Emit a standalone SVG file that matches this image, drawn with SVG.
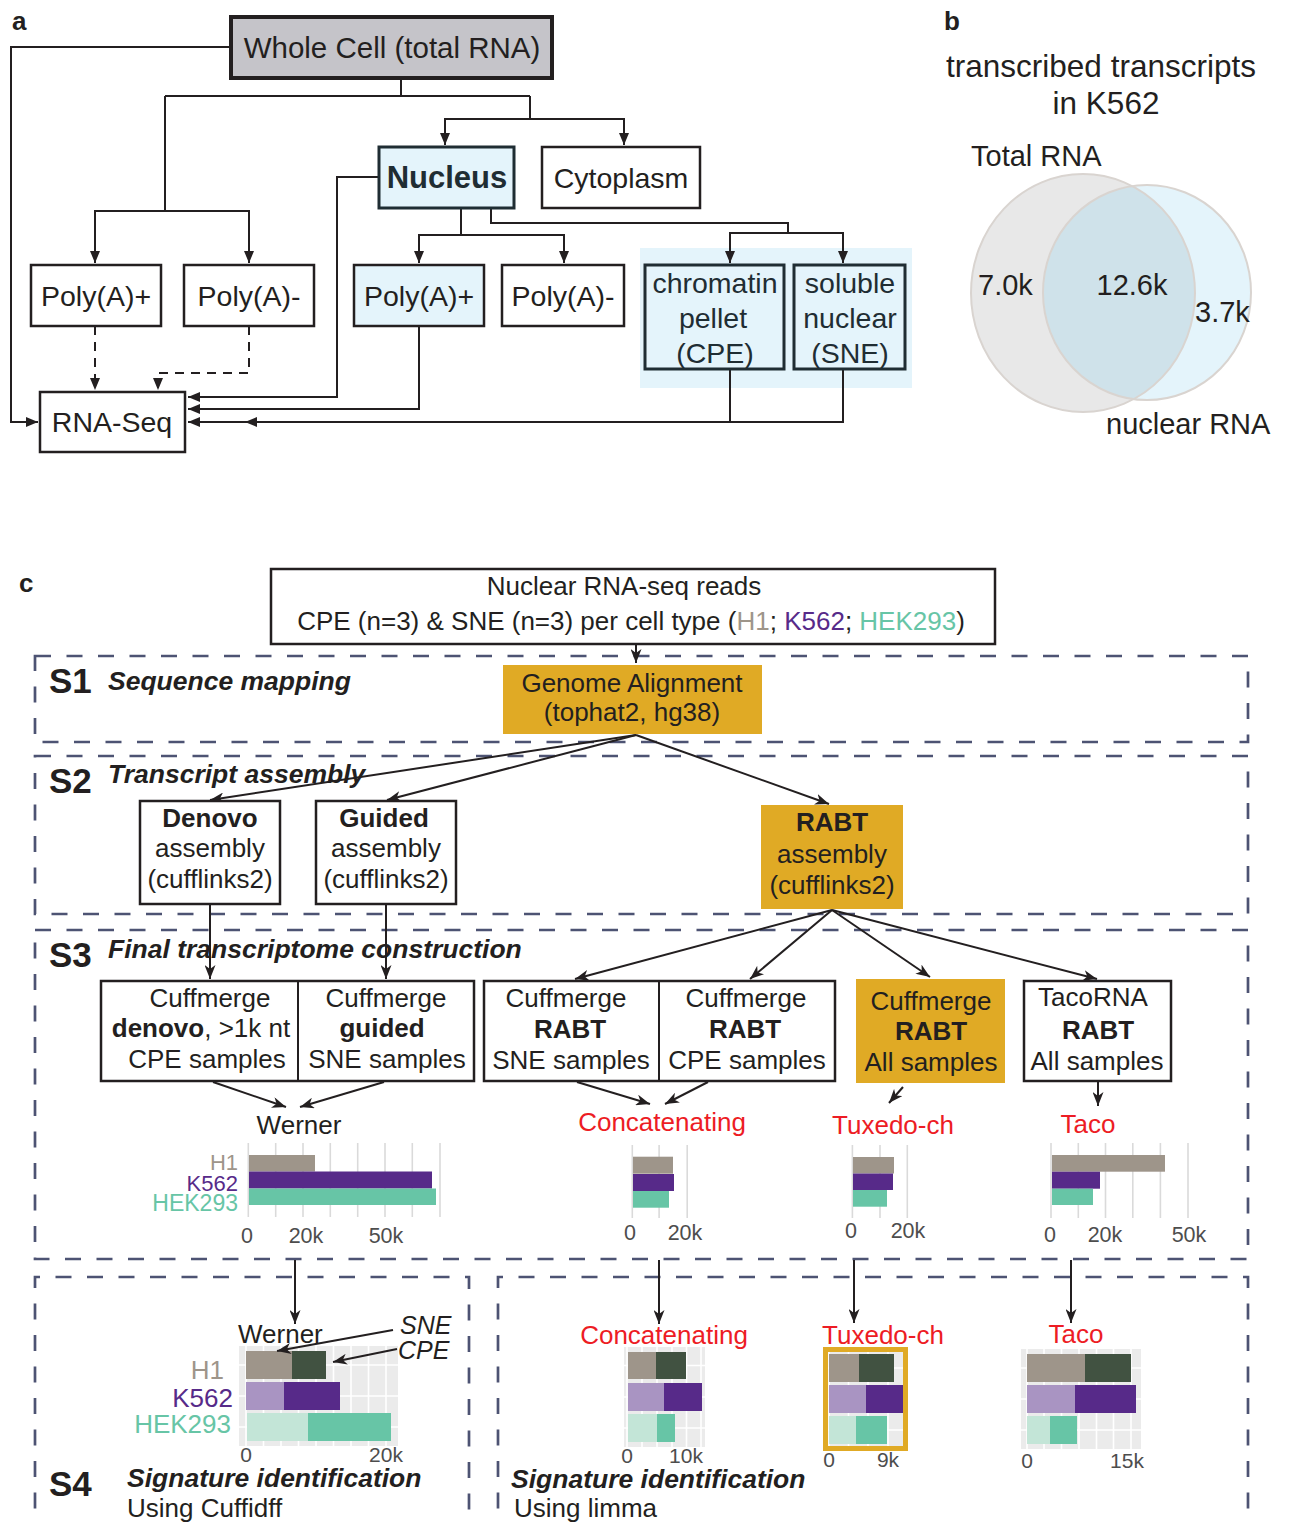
<svg xmlns="http://www.w3.org/2000/svg" width="1292" height="1523" viewBox="0 0 1292 1523">
<defs>
<style>
text{font-family:"Liberation Sans",Arial,sans-serif;fill:#231f20}
.a{font-size:28.5px;text-anchor:middle}
.lbl{font-size:26px;font-weight:bold}
.c{font-size:26px;text-anchor:middle}
.b{font-weight:bold}
.sec{font-size:35px;font-weight:bold}
.sech{font-size:26.5px;font-weight:bold;font-style:italic}
.red{fill:#ed1c24;font-size:26px;text-anchor:middle}
.ax{font-size:21.5px;fill:#4d4d4d;text-anchor:middle}
.ax4{font-size:21px;fill:#4d4d4d;text-anchor:middle}
.h1{fill:#9e958a}.k5{fill:#572a89}.hek{fill:#67c5a6}
.box{fill:#fff;stroke:#231f20;stroke-width:2.5}
.boxa{fill:#fff;stroke:#231f20;stroke-width:2.5}
.blue{fill:#e4f4fb;stroke:#1f2d33;stroke-width:3}
.gold{fill:#e0aa25}
.dash{fill:none;stroke:#4d5373;stroke-width:2.7;stroke-dasharray:16 15.5}
.ln{fill:none;stroke:#231f20;stroke-width:2}
.lnc{fill:none;stroke:#231f20;stroke-width:2}
.grid{stroke:#dadada;stroke-width:1.6}
.wg{stroke:#fff;stroke-width:1.6}
.bg{fill:#ebebeb}
.cl{font-size:22px;text-anchor:end}
</style>
<marker id="ah" viewBox="0 0 12 10" refX="12" refY="5" markerWidth="12" markerHeight="10" markerUnits="userSpaceOnUse" orient="auto">
<path d="M0,0 L12,5 L0,10 z" fill="#231f20"/>
</marker>
<marker id="st" viewBox="0 0 14 11" refX="14" refY="5.5" markerWidth="14" markerHeight="11" markerUnits="userSpaceOnUse" orient="auto">
<path d="M0,0 L14,5.5 L0,11 L4,5.5 z" fill="#231f20"/>
</marker>
<clipPath id="gc"><ellipse cx="1083" cy="293" rx="112" ry="119"/></clipPath>
</defs>
<rect width="1292" height="1523" fill="#fff"/>

<!-- Panel a -->
<text x="12" y="30" class="lbl">a</text>
<g id="connectors-a">
<rect x="640" y="248" width="272" height="140" fill="#e4f4fb"/>
<path class="ln" d="M231,47 H11 V422 H38" marker-end="url(#ah)"/>
<path class="ln" d="M401,78 V96 M165,96 H530 M165,96 V211"/>
<path class="ln" d="M165,211 H95 V263" marker-end="url(#ah)"/>
<path class="ln" d="M165,211 H249 V263" marker-end="url(#ah)"/>
<path class="ln" d="M530,96 V119 H445 V145" marker-end="url(#ah)"/>
<path class="ln" d="M530,119 H624 V145" marker-end="url(#ah)"/>
<path class="ln" d="M379,177 H337 V397 H188" marker-end="url(#ah)"/>
<path class="ln" d="M461,208 V235 H419 V263" marker-end="url(#ah)"/>
<path class="ln" d="M461,235 H564 V263" marker-end="url(#ah)"/>
<path class="ln" d="M491,208 V223 H788 V233"/>
<path class="ln" d="M788,233 H730 V263" marker-end="url(#ah)"/>
<path class="ln" d="M788,233 H843 V263" marker-end="url(#ah)"/>
<path class="ln" d="M95,326 V390" stroke-dasharray="9 7" marker-end="url(#ah)"/>
<path class="ln" d="M249,326 V373 H158 V390" stroke-dasharray="9 7" marker-end="url(#ah)"/>
<path class="ln" d="M419,326 V409 H188" marker-end="url(#ah)"/>
<path class="ln" d="M730,369 V422 M843,369 V422 H245" marker-end="url(#ah)"/>
<path class="ln" d="M245,422 H188" marker-end="url(#ah)"/>
</g>
<g id="whole-cell"><rect x="231" y="17" width="321" height="61" fill="#c5c4c9" stroke="#231f20" stroke-width="4"/><text x="392" y="58" class="a" style="font-size:29.5px">Whole Cell (total RNA)</text></g>
<g id="nucleus"><rect x="379" y="147" width="135" height="61" class="blue"/><text x="447" y="188" class="a b" style="font-size:31px;fill:#1f2d33">Nucleus</text></g>
<g id="cytoplasm"><rect x="542" y="147" width="158" height="61" class="boxa"/><text x="621" y="188" class="a">Cytoplasm</text></g>
<g id="polyA-plus-1"><rect x="31" y="265" width="130" height="61" class="boxa"/><text x="96" y="306" class="a">Poly(A)+</text></g>
<g id="polyA-minus-1"><rect x="184" y="265" width="130" height="61" class="boxa"/><text x="249" y="306" class="a">Poly(A)-</text></g>
<g id="polyA-plus-2"><rect x="354" y="265" width="130" height="61" fill="#e4f4fb" stroke="#231f20" stroke-width="2.5"/><text x="419" y="306" class="a">Poly(A)+</text></g>
<g id="polyA-minus-2"><rect x="502" y="265" width="122" height="61" class="boxa"/><text x="563" y="306" class="a">Poly(A)-</text></g>
<g id="cpe"><rect x="645" y="265" width="139" height="104" class="blue"/><text x="715" y="293" class="a" style="fill:#1f2d33">chromatin</text><text x="713" y="328" class="a" style="fill:#1f2d33">pellet</text><text x="715" y="363" class="a" style="fill:#1f2d33">(CPE)</text></g>
<g id="sne"><rect x="794" y="265" width="111" height="104" class="blue"/><text x="850" y="293" class="a" style="fill:#1f2d33">soluble</text><text x="850" y="328" class="a" style="fill:#1f2d33">nuclear</text><text x="850" y="363" class="a" style="fill:#1f2d33">(SNE)</text></g>
<g id="rna-seq"><rect x="40" y="392" width="145" height="60" class="boxa"/><text x="112" y="432" class="a">RNA-Seq</text></g>

<!-- Panel b -->
<g id="venn">
<text x="944" y="30" class="lbl">b</text>
<text x="1101" y="77" style="font-size:31.5px;text-anchor:middle">transcribed transcripts</text>
<text x="1106" y="114" style="font-size:31.5px;text-anchor:middle">in K562</text>
<text x="971" y="166" style="font-size:29px">Total RNA</text>
<ellipse cx="1083" cy="293" rx="112" ry="119" fill="#e8e8e8"/>
<ellipse cx="1147" cy="292.5" rx="104" ry="107.5" fill="#e4f4fb"/>
<ellipse cx="1147" cy="292.5" rx="104" ry="107.5" fill="#cfe2ea" clip-path="url(#gc)"/>
<ellipse cx="1083" cy="293" rx="112" ry="119" fill="none" stroke="#d9d4d0" stroke-width="2"/>
<ellipse cx="1147" cy="292.5" rx="104" ry="107.5" fill="none" stroke="#d9d4d0" stroke-width="2"/>
<text x="978" y="295" style="font-size:29px">7.0k</text>
<text x="1132" y="295" style="font-size:29px;text-anchor:middle">12.6k</text>
<text x="1195" y="322" style="font-size:29px">3.7k</text>
<text x="1106" y="434" style="font-size:29px">nuclear RNA</text>
</g>

<!-- Panel c -->
<text x="19" y="592" class="lbl">c</text>
<g id="sections">
<rect x="35" y="656" width="1213" height="86" class="dash"/>
<rect x="35" y="756" width="1213" height="158" class="dash"/>
<rect x="35" y="930" width="1213" height="329" class="dash"/>
<path class="dash" d="M35,1540 V1277 H469 V1540"/>
<path class="dash" d="M498,1540 V1277 H1248 V1540"/>
<text x="49" y="693" class="sec">S1</text><text x="108" y="690" class="sech">Sequence mapping</text>
<text x="49" y="793" class="sec">S2</text><text x="108" y="783" class="sech">Transcript assembly</text>
<text x="49" y="967" class="sec">S3</text><text x="108" y="958" class="sech">Final transcriptome construction</text>
<text x="49" y="1496" class="sec">S4</text>
<text x="127" y="1487" class="sech">Signature identification</text>
<text x="127" y="1517" style="font-size:26px">Using Cuffidff</text>
<text x="511" y="1488" class="sech">Signature identification</text>
<text x="514" y="1517" style="font-size:26px">Using limma</text>
</g>

<g id="connectors-c">
<path class="lnc" d="M636,644 V663" stroke-width="1.5" marker-end="url(#st)"/>
<path class="lnc" d="M636,735 L210,800" marker-end="url(#st)"/>
<path class="lnc" d="M636,735 L387,800" marker-end="url(#st)"/>
<path class="lnc" d="M636,735 L829,804" marker-end="url(#st)"/>
<path class="lnc" d="M210,904 V979" stroke-width="1.5" marker-end="url(#st)"/>
<path class="lnc" d="M386,904 V979" stroke-width="1.5" marker-end="url(#st)"/>
<path class="lnc" d="M832,910 L575,979" marker-end="url(#st)"/>
<path class="lnc" d="M832,910 L750,979" marker-end="url(#st)"/>
<path class="lnc" d="M832,910 L930,977" marker-end="url(#st)"/>
<path class="lnc" d="M832,910 L1097,979" marker-end="url(#st)"/>
<path class="lnc" d="M213,1082 L286,1107" marker-end="url(#st)"/>
<path class="lnc" d="M384,1082 L300,1107" marker-end="url(#st)"/>
<path class="lnc" d="M577,1082 L650,1104" marker-end="url(#st)"/>
<path class="lnc" d="M708,1082 L665,1104" marker-end="url(#st)"/>
<path class="lnc" d="M903,1087 L889,1103" marker-end="url(#st)"/>
<path class="lnc" d="M1098,1082 V1106" marker-end="url(#st)"/>
<path class="lnc" d="M295,1260 V1324" marker-end="url(#st)"/>
<path class="lnc" d="M659,1260 V1324" marker-end="url(#st)"/>
<path class="lnc" d="M854,1260 V1323" marker-end="url(#st)"/>
<path class="lnc" d="M1071,1260 V1323" marker-end="url(#st)"/>
</g>

<g id="reads"><rect x="271" y="569" width="724" height="75" class="box"/>
<text x="624" y="595" class="c">Nuclear RNA-seq reads</text>
<text x="631" y="630" class="c">CPE (n=3) &amp; SNE (n=3) per cell type (<tspan class="h1">H1</tspan>; <tspan class="k5">K562</tspan>; <tspan class="hek">HEK293</tspan>)</text></g>
<g id="genome-alignment"><rect x="503" y="665" width="259" height="69" class="gold"/>
<text x="632" y="692" class="c">Genome Alignment</text><text x="632" y="721" class="c">(tophat2, hg38)</text></g>
<g id="denovo"><rect x="140" y="801" width="140" height="103" class="box"/>
<text x="210" y="827" class="c b">Denovo</text><text x="210" y="857" class="c">assembly</text><text x="210" y="888" class="c">(cufflinks2)</text></g>
<g id="guided"><rect x="316" y="801" width="140" height="103" class="box"/>
<text x="384" y="827" class="c b">Guided</text><text x="386" y="857" class="c">assembly</text><text x="386" y="888" class="c">(cufflinks2)</text></g>
<g id="rabt"><rect x="761" y="805" width="142" height="104" class="gold"/>
<text x="832" y="831" class="c b">RABT</text><text x="832" y="863" class="c">assembly</text><text x="832" y="894" class="c">(cufflinks2)</text></g>

<g id="cuffmerge-denovo-guided"><rect x="101" y="981" width="373" height="100" class="box"/><line x1="298" y1="981" x2="298" y2="1081" stroke="#231f20" stroke-width="2"/>
<text x="210" y="1007" class="c">Cuffmerge</text><text x="201" y="1037" class="c"><tspan class="b">denovo</tspan>, &gt;1k nt</text><text x="207" y="1068" class="c">CPE samples</text>
<text x="386" y="1007" class="c">Cuffmerge</text><text x="382" y="1037" class="c b">guided</text><text x="387" y="1068" class="c">SNE samples</text></g>
<g id="cuffmerge-rabt"><rect x="484" y="981" width="351" height="100" class="box"/><line x1="659" y1="981" x2="659" y2="1081" stroke="#231f20" stroke-width="2"/>
<text x="566" y="1007" class="c">Cuffmerge</text><text x="570" y="1038" class="c b">RABT</text><text x="571" y="1069" class="c">SNE samples</text>
<text x="746" y="1007" class="c">Cuffmerge</text><text x="745" y="1038" class="c b">RABT</text><text x="747" y="1069" class="c">CPE samples</text></g>
<g id="cuffmerge-all"><rect x="856" y="979" width="149" height="104" class="gold"/>
<text x="931" y="1010" class="c">Cuffmerge</text><text x="931" y="1040" class="c b">RABT</text><text x="931" y="1071" class="c">All samples</text></g>
<g id="tacorna"><rect x="1024" y="981" width="147" height="100" class="box"/>
<text x="1093" y="1006" class="c">TacoRNA</text><text x="1098" y="1039" class="c b">RABT</text><text x="1097" y="1070" class="c">All samples</text></g>

<!-- S3 charts -->
<g id="chart-werner">
<text x="299" y="1134" class="c">Werner</text>
<g class="grid"><line x1="248.3" y1="1143" x2="248.3" y2="1217"/><line x1="275.7" y1="1143" x2="275.7" y2="1217"/><line x1="303" y1="1143" x2="303" y2="1217"/><line x1="330.3" y1="1143" x2="330.3" y2="1217"/><line x1="357.7" y1="1143" x2="357.7" y2="1217"/><line x1="385" y1="1143" x2="385" y2="1217"/><line x1="412.3" y1="1143" x2="412.3" y2="1217"/><line x1="440" y1="1143" x2="440" y2="1217"/></g>
<rect x="249" y="1155" width="66" height="16.5" class="h1"/>
<rect x="249" y="1171.5" width="183" height="17" class="k5"/>
<rect x="249" y="1188.5" width="187" height="16.5" class="hek"/>
<text x="238" y="1170" class="cl h1">H1</text>
<text x="238" y="1191" class="cl k5">K562</text>
<text x="238" y="1211" class="cl hek" style="font-size:23px">HEK293</text>
<text x="247" y="1243" class="ax">0</text><text x="306" y="1243" class="ax">20k</text><text x="386" y="1243" class="ax">50k</text>
</g>
<g id="chart-concat">
<text x="662" y="1131" class="red">Concatenating</text>
<g class="grid"><line x1="632.3" y1="1145" x2="632.3" y2="1218"/><line x1="659.1" y1="1145" x2="659.1" y2="1218"/><line x1="687.2" y1="1145" x2="687.2" y2="1218"/></g>
<rect x="633" y="1156.7" width="40" height="17" class="h1"/>
<rect x="633" y="1174" width="41" height="17" class="k5"/>
<rect x="633" y="1191" width="36" height="16.7" class="hek"/>
<text x="630" y="1240" class="ax">0</text><text x="685" y="1240" class="ax">20k</text>
</g>
<g id="chart-tuxedo">
<text x="893" y="1134" class="red">Tuxedo-ch</text>
<g class="grid"><line x1="852.4" y1="1145" x2="852.4" y2="1218"/><line x1="880" y1="1145" x2="880" y2="1218"/><line x1="907.3" y1="1145" x2="907.3" y2="1218"/></g>
<rect x="853" y="1157" width="41" height="16.5" class="h1"/>
<rect x="853" y="1173.5" width="40" height="16.5" class="k5"/>
<rect x="853" y="1190" width="34" height="16.7" class="hek"/>
<text x="851" y="1238" class="ax">0</text><text x="908" y="1238" class="ax">20k</text>
</g>
<g id="chart-taco">
<text x="1088" y="1133" class="red">Taco</text>
<g class="grid"><line x1="1051" y1="1143" x2="1051" y2="1218"/><line x1="1078.3" y1="1143" x2="1078.3" y2="1218"/><line x1="1105.5" y1="1143" x2="1105.5" y2="1218"/><line x1="1132.8" y1="1143" x2="1132.8" y2="1218"/><line x1="1160.4" y1="1143" x2="1160.4" y2="1218"/><line x1="1188" y1="1143" x2="1188" y2="1218"/></g>
<rect x="1052" y="1155" width="113" height="16.7" class="h1"/>
<rect x="1052" y="1171.7" width="48" height="17" class="k5"/>
<rect x="1052" y="1188.7" width="41" height="16.3" class="hek"/>
<text x="1050" y="1242" class="ax">0</text><text x="1105" y="1242" class="ax">20k</text><text x="1189" y="1242" class="ax">50k</text>
</g>

<!-- S4 charts -->
<g id="s4-werner">
<text x="238" y="1343" style="font-size:26px">Werner</text>
<rect x="239" y="1346" width="159" height="100" class="bg"/>
<g class="wg"><line x1="246" y1="1346" x2="246" y2="1446"/><line x1="263.5" y1="1346" x2="263.5" y2="1446"/><line x1="281" y1="1346" x2="281" y2="1446"/><line x1="298.5" y1="1346" x2="298.5" y2="1446"/><line x1="316" y1="1346" x2="316" y2="1446"/><line x1="333.5" y1="1346" x2="333.5" y2="1446"/><line x1="351" y1="1346" x2="351" y2="1446"/><line x1="368.5" y1="1346" x2="368.5" y2="1446"/><line x1="386" y1="1346" x2="386" y2="1446"/><line x1="239" y1="1365" x2="398" y2="1365"/><line x1="239" y1="1396" x2="398" y2="1396"/><line x1="239" y1="1427" x2="398" y2="1427"/></g>
<rect x="246" y="1351" width="46" height="28" fill="#9e958a"/><rect x="292" y="1351" width="34" height="28" fill="#415241"/>
<rect x="246" y="1382" width="38" height="28" fill="#a994c2"/><rect x="284" y="1382" width="56" height="28" fill="#572a89"/>
<rect x="247" y="1413" width="61" height="28" fill="#c3e5d7"/><rect x="308" y="1413" width="83" height="28" fill="#67c5a6"/>
<text x="224" y="1379" class="h1" style="font-size:26px;text-anchor:end">H1</text>
<text x="233" y="1407" class="k5" style="font-size:26px;text-anchor:end">K562</text>
<text x="231" y="1433" class="hek" style="font-size:26px;text-anchor:end">HEK293</text>
<text x="400" y="1334" style="font-size:25px;font-style:italic">SNE</text>
<text x="398" y="1359" style="font-size:25px;font-style:italic">CPE</text>
<path class="lnc" d="M393,1330 L277,1351" stroke-width="1.6" marker-end="url(#st)"/>
<path class="lnc" d="M397,1349 L333,1362" stroke-width="1.6" marker-end="url(#st)"/>
<text x="246" y="1462" class="ax4">0</text><text x="386" y="1462" class="ax4">20k</text>
</g>
<g id="s4-concat">
<text x="664" y="1344" class="red">Concatenating</text>
<rect x="624" y="1347" width="81" height="100" class="bg"/>
<g class="wg"><line x1="627" y1="1347" x2="627" y2="1447"/><line x1="642" y1="1347" x2="642" y2="1447"/><line x1="657" y1="1347" x2="657" y2="1447"/><line x1="672" y1="1347" x2="672" y2="1447"/><line x1="686.5" y1="1347" x2="686.5" y2="1447"/><line x1="701" y1="1347" x2="701" y2="1447"/><line x1="624" y1="1365.5" x2="705" y2="1365.5"/><line x1="624" y1="1397" x2="705" y2="1397"/><line x1="624" y1="1428" x2="705" y2="1428"/></g>
<rect x="628" y="1352" width="28" height="27" fill="#9e958a"/><rect x="656" y="1352" width="30" height="27" fill="#415241"/>
<rect x="628" y="1383" width="36" height="28" fill="#a994c2"/><rect x="664" y="1383" width="38" height="28" fill="#572a89"/>
<rect x="628" y="1414" width="29" height="28" fill="#c3e5d7"/><rect x="657" y="1414" width="18" height="28" fill="#67c5a6"/>
<text x="627" y="1463" class="ax4">0</text><text x="686" y="1463" class="ax4">10k</text>
</g>
<g id="s4-tuxedo">
<text x="883" y="1344" class="red">Tuxedo-ch</text>
<rect x="825.5" y="1349.5" width="80" height="99" class="bg"/>
<g class="wg"><line x1="829" y1="1349.5" x2="829" y2="1448.5"/><line x1="848.5" y1="1349.5" x2="848.5" y2="1448.5"/><line x1="868" y1="1349.5" x2="868" y2="1448.5"/><line x1="888" y1="1349.5" x2="888" y2="1448.5"/><line x1="825.5" y1="1368" x2="905.5" y2="1368"/><line x1="825.5" y1="1399" x2="905.5" y2="1399"/><line x1="825.5" y1="1430" x2="905.5" y2="1430"/></g>
<rect x="829" y="1354" width="30" height="28" fill="#9e958a"/><rect x="859" y="1354" width="35" height="28" fill="#415241"/>
<rect x="829" y="1385" width="37" height="28" fill="#a994c2"/><rect x="866" y="1385" width="37" height="28" fill="#572a89"/>
<rect x="829" y="1416" width="27" height="28" fill="#c3e5d7"/><rect x="856" y="1416" width="31" height="28" fill="#67c5a6"/>
<rect x="825.5" y="1349.5" width="80" height="99" fill="none" stroke="#e0aa25" stroke-width="5"/>
<text x="829" y="1467" class="ax4">0</text><text x="888" y="1467" class="ax4">9k</text>
</g>
<g id="s4-taco">
<text x="1076" y="1343" class="red">Taco</text>
<rect x="1021" y="1349" width="120" height="100" class="bg"/>
<g class="wg"><line x1="1027" y1="1349" x2="1027" y2="1449"/><line x1="1044" y1="1349" x2="1044" y2="1449"/><line x1="1061.5" y1="1349" x2="1061.5" y2="1449"/><line x1="1079" y1="1349" x2="1079" y2="1449"/><line x1="1096.5" y1="1349" x2="1096.5" y2="1449"/><line x1="1113.5" y1="1349" x2="1113.5" y2="1449"/><line x1="1131" y1="1349" x2="1131" y2="1449"/><line x1="1021" y1="1368" x2="1141" y2="1368"/><line x1="1021" y1="1399" x2="1141" y2="1399"/><line x1="1021" y1="1430" x2="1141" y2="1430"/></g>
<rect x="1027" y="1354" width="58" height="28" fill="#9e958a"/><rect x="1085" y="1354" width="46" height="28" fill="#415241"/>
<rect x="1027" y="1385" width="48" height="28" fill="#a994c2"/><rect x="1075" y="1385" width="61" height="28" fill="#572a89"/>
<rect x="1027" y="1416" width="23" height="28" fill="#c3e5d7"/><rect x="1050" y="1416" width="27" height="28" fill="#67c5a6"/>
<text x="1027" y="1468" class="ax4">0</text><text x="1127" y="1468" class="ax4">15k</text>
</g>
</svg>
